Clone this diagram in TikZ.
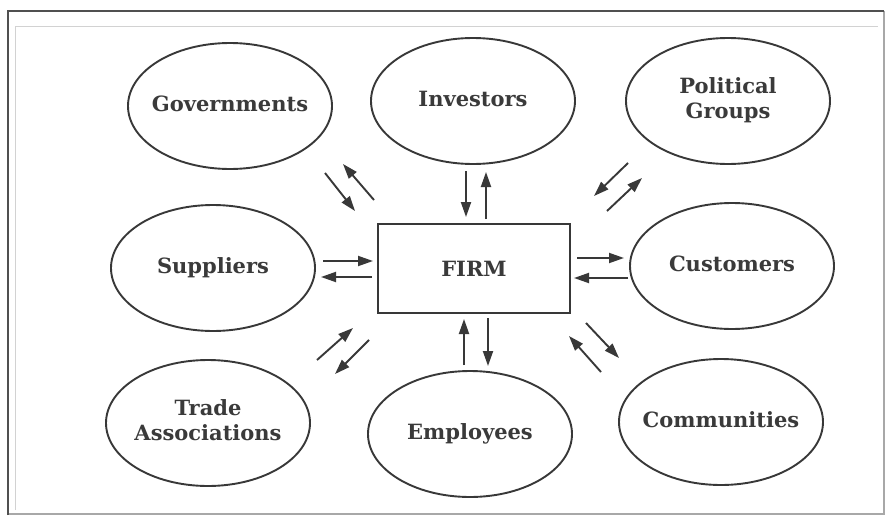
\documentclass[tikz,border=0pt]{standalone}
\usepackage{fontspec}
\setmainfont{DejaVu Serif}
\usetikzlibrary{shapes.geometric,arrows.meta}
\definecolor{ink}{HTML}{383838}
\definecolor{txt}{HTML}{3A3A3A}
\definecolor{framedark}{HTML}{505050}
\definecolor{framelight}{HTML}{A8A8A8}
\definecolor{framefaint}{HTML}{D2D2D2}
% keep long labels from widening the fixed-size ellipses
\newcommand{\nowide}[1]{\makebox[0pt]{\begin{tabular}{@{}c@{}}#1\end{tabular}}}
\begin{document}
\begin{tikzpicture}[x=1pt,y=-1pt,
  party/.style={ellipse, draw=ink, line width=1.9pt, minimum width=204pt,
    minimum height=126pt, inner sep=0pt, text=txt,
    font=\bfseries\fontsize{21}{25}\selectfont},
  firmbox/.style={rectangle, draw=ink, line width=2pt, minimum width=192pt,
    minimum height=89pt, inner sep=0pt, text=txt,
    font=\bfseries\fontsize{21}{25}\selectfont},
  flow/.style={draw=ink, line width=1.9pt, -{Triangle[length=15pt,width=10pt]}}]
\useasboundingbox (0,0) rectangle (891,519);
\fill[white] (0,0) rectangle (891,519);

% page frame
\draw[framefaint, line width=0.7pt] (15,510) -- (15,26) -- (878,26);
\draw[framelight, line width=1.2pt] (884,11) -- (884,514) -- (8,514);
\draw[framedark, line width=2.5pt] (8,515) -- (8,11) -- (884,11);

% stakeholders around the firm
\node[party] (gov) at (230,106) {\nowide{Governments}};
\node[party] (inv) at (473,101) {\nowide{Investors}};
\node[party] (pol) at (728,101) {\nowide{Political\\Groups}};
\node[party] (sup) at (213,268) {\nowide{Suppliers}};
\node[party] (cus) at (732,266) {\nowide{Customers}};
\node[party] (tra) at (208,423) {\nowide{Trade\\Associations}};
\node[party] (emp) at (470,434) {\nowide{Employees}};
\node[party] (com) at (721,422) {\nowide{Communities}};
\node[firmbox] (firm) at (474,268.5) {FIRM};

% arrow end points
\coordinate (g1s) at (325,173); \coordinate (g1e) at (355,211);
\coordinate (g2s) at (374,200); \coordinate (g2e) at (343,164);
\coordinate (i1s) at (466,171); \coordinate (i1e) at (466,217);
\coordinate (i2s) at (486,219); \coordinate (i2e) at (486,172);
\coordinate (p1s) at (628,163); \coordinate (p1e) at (594,196);
\coordinate (p2s) at (607,211); \coordinate (p2e) at (642,178);
\coordinate (s1s) at (323,261); \coordinate (s1e) at (373,261);
\coordinate (s2s) at (372,277); \coordinate (s2e) at (321,277);
\coordinate (c1s) at (577,258); \coordinate (c1e) at (624,258);
\coordinate (c2s) at (628,278); \coordinate (c2e) at (574,278);
\coordinate (t1s) at (317,360); \coordinate (t1e) at (353,328);
\coordinate (t2s) at (369,340); \coordinate (t2e) at (335,374);
\coordinate (e1s) at (464,365); \coordinate (e1e) at (464,319);
\coordinate (e2s) at (488,318); \coordinate (e2e) at (488,366);
\coordinate (m1s) at (586,323); \coordinate (m1e) at (619,358);
\coordinate (m2s) at (601,372); \coordinate (m2e) at (569,336);

% two-way flows
\foreach \p in {g1,g2,i1,i2,p1,p2,s1,s2,c1,c2,t1,t2,e1,e2,m1,m2}
  \draw[flow] (\p s) -- (\p e);
\end{tikzpicture}
\end{document}
